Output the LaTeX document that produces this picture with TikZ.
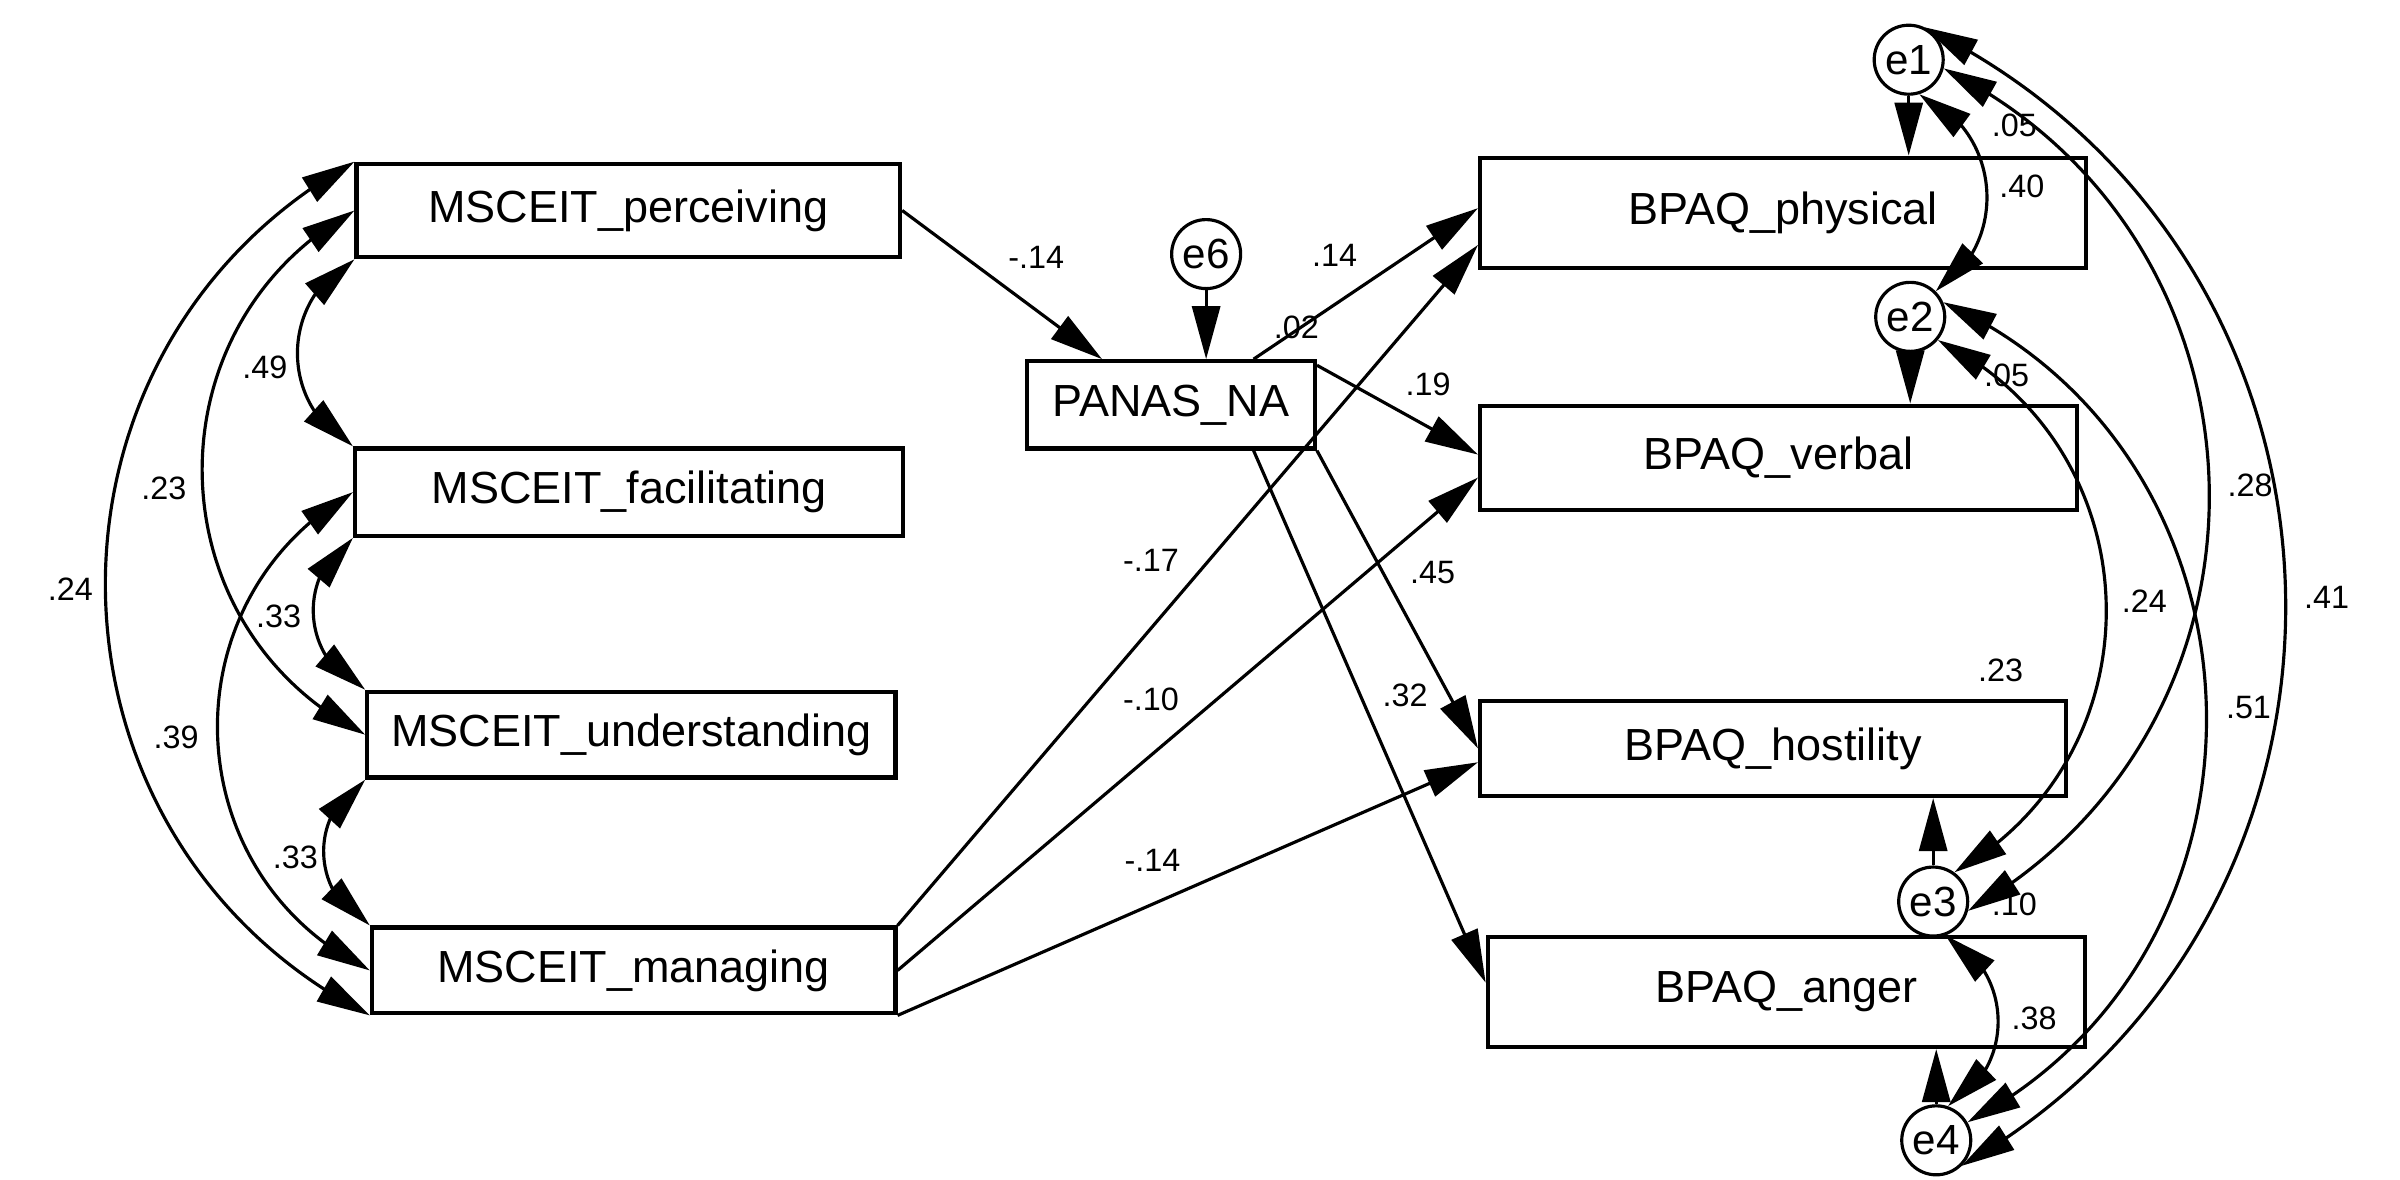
\documentclass[tikz,border=0pt]{standalone}
\usepackage{fontspec}
\setmainfont{Liberation Sans}
\usetikzlibrary{arrows.meta,bending,calc}
\begin{document}
\begin{tikzpicture}[x=0.0153061cm,y=-0.0153061cm,
  >={Triangle[length=0.53cm,width=0.28cm]},
  box/.style={draw,line width=1.2pt,inner sep=0pt,font=\fontsize{12.8}{15}\selectfont},
  err/.style={draw,circle,line width=0.9pt,minimum size=0.69cm,inner sep=0pt,font=\fontsize{12}{14}\selectfont},
  arr/.style={->,line width=0.9pt},
  cov/.style={<->,line width=0.9pt,looseness=1.16},
  lab/.style={inner sep=0pt,font=\fontsize{9.2}{11}\selectfont}]
\useasboundingbox (0,0) rectangle (1568,770.3);

% exogenous boxes
\node[box,minimum width=5.434cm,minimum height=0.934cm] (P) at (410.5,137.5) {MSCEIT\_perceiving};
\node[box,minimum width=5.480cm,minimum height=0.872cm] (F) at (411,321.5) {MSCEIT\_facilitating};
\node[box,minimum width=5.281cm,minimum height=0.857cm] (U) at (412.5,480) {MSCEIT\_understanding};
\node[box,minimum width=5.235cm,minimum height=0.857cm] (M) at (414,634) {MSCEIT\_managing};

% mediator
\node[box,minimum width=2.878cm,minimum height=0.872cm] (N) at (765,264.5) {PANAS\_NA};
\node[err] (e6) at (788,166) {e6};

% outcomes
\node[box,minimum width=6.061cm,minimum height=1.102cm] (Ph) at (1165,139) {BPAQ\_physical};
\node[box,minimum width=5.969cm,minimum height=1.041cm] (Ve) at (1162,299) {BPAQ\_verbal};
\node[box,minimum width=5.862cm,minimum height=0.949cm] (Ho) at (1158.5,489) {BPAQ\_hostility};
\node[box,minimum width=5.969cm,minimum height=1.102cm] (An) at (1167,648) {BPAQ\_anger};

\node[err] (e1) at (1247,39) {e1};
\node[err] (e2) at (1248,207) {e2};
\node[err] (e3) at (1263,589) {e3};
\node[err] (e4) at (1265,745) {e4};

% left covariances
\draw[cov,bend right=62] (P.south west) to (F.north west);
\draw[cov,bend right=62] (P.west) to (U.west);
\draw[cov,bend right=62] (P.north west) to (M.south west);
\draw[cov,bend right=62] (F.south west) to (U.north west);
\draw[cov,bend right=62] (F.west) to (M.west);
\draw[cov,bend right=62] (U.south west) to (M.north west);

% regression paths
\draw[arr] (P.east) -- ($(N.north)+(-45,0)$);
\draw[arr] (e6.south) -- (e6 |- N.north);
\draw[arr] ($(N.north)+(54,0)$) -- ($(Ph.west)+(0,-3)$);
\draw[arr] ($(N.north east)+(0,4)$) -- ($(Ve.west)+(0,-2)$);
\draw[arr] (N.south east) -- (Ho.west);
\draw[arr] ($(N.south)+(54,0)$) -- ($(An.west)+(0,-6)$);
\draw[arr] (M.north east) -- ($(Ph.west)+(0,21)$);
\draw[arr] (M.east) -- ($(Ve.west)+(0,13)$);
\draw[arr] (M.south east) -- ($(Ho.west)+(0,9)$);

\draw[arr] (e1.south) -- (e1 |- Ph.north);
\draw[arr] (e2.south) -- (e2 |- Ve.north);
\draw[arr] (e3.north) -- (e3 |- Ho.south);
\draw[arr] (e4.north) -- (e4 |- An.south);

% right covariances
\draw[cov,bend left=62] (e1.-73) to (e2.45);
\draw[cov,bend left=62] (e1.-14) to (e3.-15);
\draw[cov,bend left=62] (e1.64) to (e4.-45);
\draw[cov,bend left=62] (e2.-40) to (e3.54);
\draw[cov,bend left=64] (e2.24) to (e4.30);
\draw[cov,bend left=62] (e3.-70) to (e4.71);

% labels
\node[lab] (l1) at (173,240) {.49};
\node[lab] (l2) at (107,319) {.23};
\node[lab] (l3) at (46,385) {.24};
\node[lab] (l4) at (182,403) {.33};
\node[lab] (l5) at (115,482) {.39};
\node[lab] (l6) at (193,560) {.33};

\node[lab] (l7) at (677,168) {-.14};
\node[lab] (l8) at (872,167) {.14};
\node[lab] (l9) at (847,214) {.02};
\node[lab] (l10) at (933,251) {.19};
\node[lab] (l11) at (752,366) {-.17};
\node[lab] (l12) at (936,374) {.45};
\node[lab] (l13) at (752,457) {-.10};
\node[lab] (l14) at (918,454) {.32};
\node[lab] (l15) at (753,562) {-.14};

\node[lab] (l16) at (1316,82) {.05};
\node[lab] (l17) at (1321,122) {.40};
\node[lab] (l18) at (1311,245) {.05};
\node[lab] (l19) at (1470,317) {.28};
\node[lab] (l20) at (1520,390) {.41};
\node[lab] (l21) at (1401,393) {.24};
\node[lab] (l22) at (1307,438) {.23};
\node[lab] (l23) at (1469,462) {.51};
\node[lab] (l24) at (1316,591) {.10};
\node[lab] (l25) at (1329,665) {.38};
\end{tikzpicture}
\end{document}
